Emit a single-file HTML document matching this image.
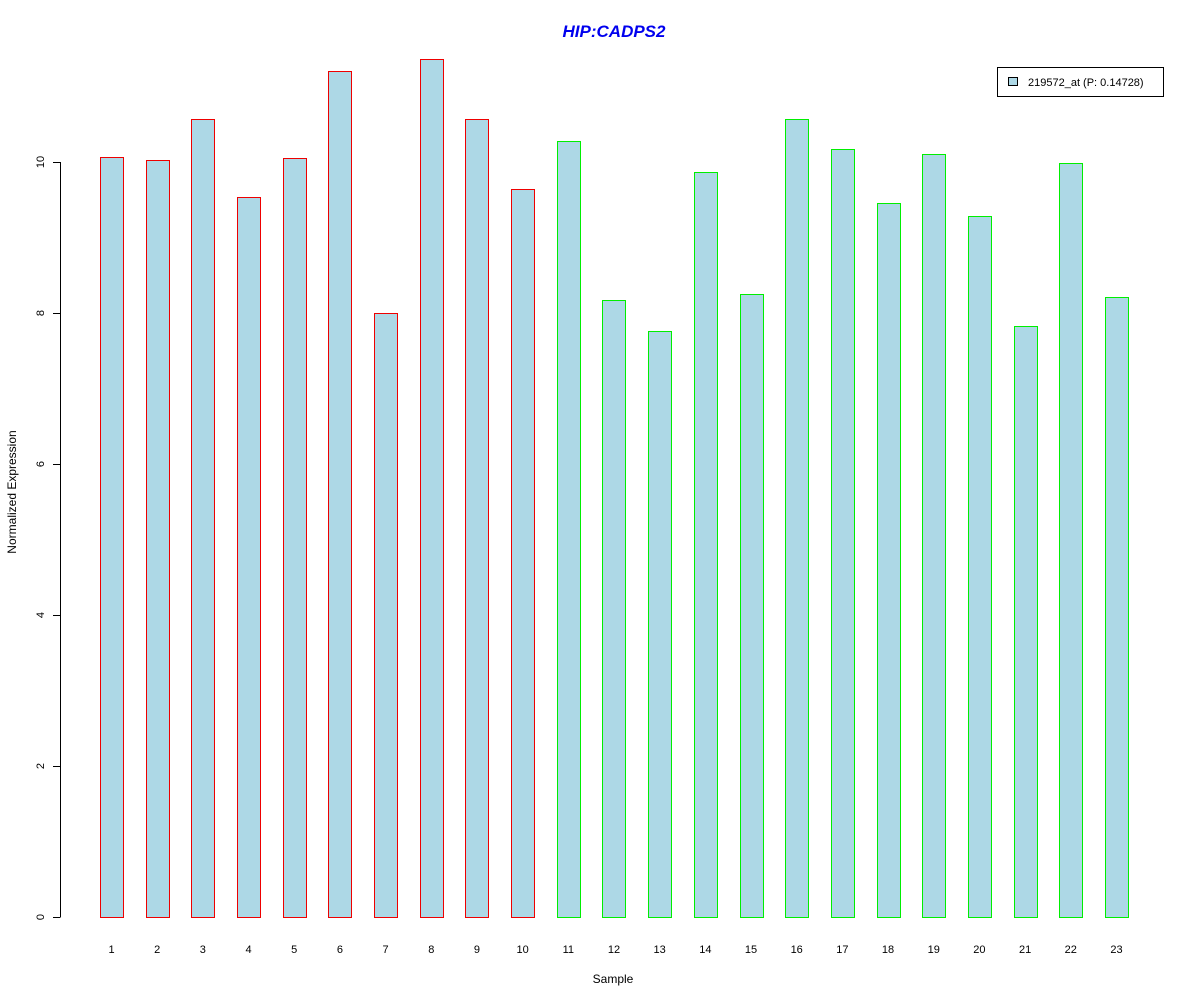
<!DOCTYPE html>
<html><head><meta charset="utf-8"><style>
body{margin:0;background:#fff;}
svg text{font-family:"Liberation Sans",Arial,sans-serif;}
</style></head><body>
<svg id="chart" width="1200" height="1000" xmlns="http://www.w3.org/2000/svg">
<rect width="1200" height="1000" fill="#fff"/>
<text x="614" y="37" text-anchor="middle" font-size="17" font-weight="bold" font-style="italic" fill="#0000ee">HIP:CADPS2</text>
<text x="613" y="983" text-anchor="middle" font-size="12">Sample</text>
<text transform="translate(16,492) rotate(-90)" text-anchor="middle" font-size="12">Normalized Expression</text>
<g id="yaxis"></g>
<g id="bars"></g>
<g id="xlabels"></g>
<g>
<rect x="997.5" y="67.5" width="166" height="29" fill="#fff" stroke="#000"/>
<rect x="1008.5" y="77.5" width="9" height="8" fill="#add8e6" stroke="#000"/>
<text x="1028" y="86" font-size="11">219572_at (P: 0.14728)</text>
</g>
</svg>
<script>
const categories=["1","2","3","4","5","6","7","8","9","10","11","12","13","14","15","16","17","18","19","20","21","22","23"];
const values=[10.07,10.03,10.57,9.54,10.05,11.21,8.0,11.36,10.57,9.64,10.28,8.17,7.76,9.87,8.25,10.57,10.17,9.46,10.11,9.28,7.83,9.99,8.21];
const groups=["red","red","red","red","red","red","red","red","red","red","green","green","green","green","green","green","green","green","green","green","green","green","green"];
const yTicks=[0,2,4,6,8,10];
const NS="http://www.w3.org/2000/svg";
function y(v){return 917-v*75.5;}
function x(i){return 100+i*45.68;}
const bw=23;
function mk(t,a,p){const e=document.createElementNS(NS,t);for(const k in a)e.setAttribute(k,a[k]);p.appendChild(e);return e;}
const ya=document.getElementById('yaxis');
const axl=mk('line',{x1:60.5,x2:60.5,y1:y(yTicks[0]),y2:y(yTicks[yTicks.length-1]),stroke:'#000'},ya);


yTicks.forEach(t=>{
  const l=mk('line',{x1:53,x2:60.5,y1:Math.round(y(t))+.5,y2:Math.round(y(t))+.5,stroke:'#000'},ya);
  
  
  const tx=mk('text',{transform:`translate(44,${y(t)}) rotate(-90)`,'text-anchor':'middle','font-size':11},ya);
  tx.textContent=t;
  
  
});
const bg=document.getElementById('bars'),xl=document.getElementById('xlabels');
values.forEach((v,i)=>{
  const r=mk('rect',{x:Math.round(x(i))+.5,y:Math.round(y(v))+.5,width:bw,height:Math.round(y(0))-Math.round(y(v)),fill:'#add8e6',stroke:groups[i]==='red'?'#ee0000':'#00ee00'},bg);
  
  
  const t=mk('text',{x:x(i)+bw/2,y:953,'text-anchor':'middle','font-size':11},xl);
  t.textContent=categories[i];
  
  
});
</script>
</body></html>
